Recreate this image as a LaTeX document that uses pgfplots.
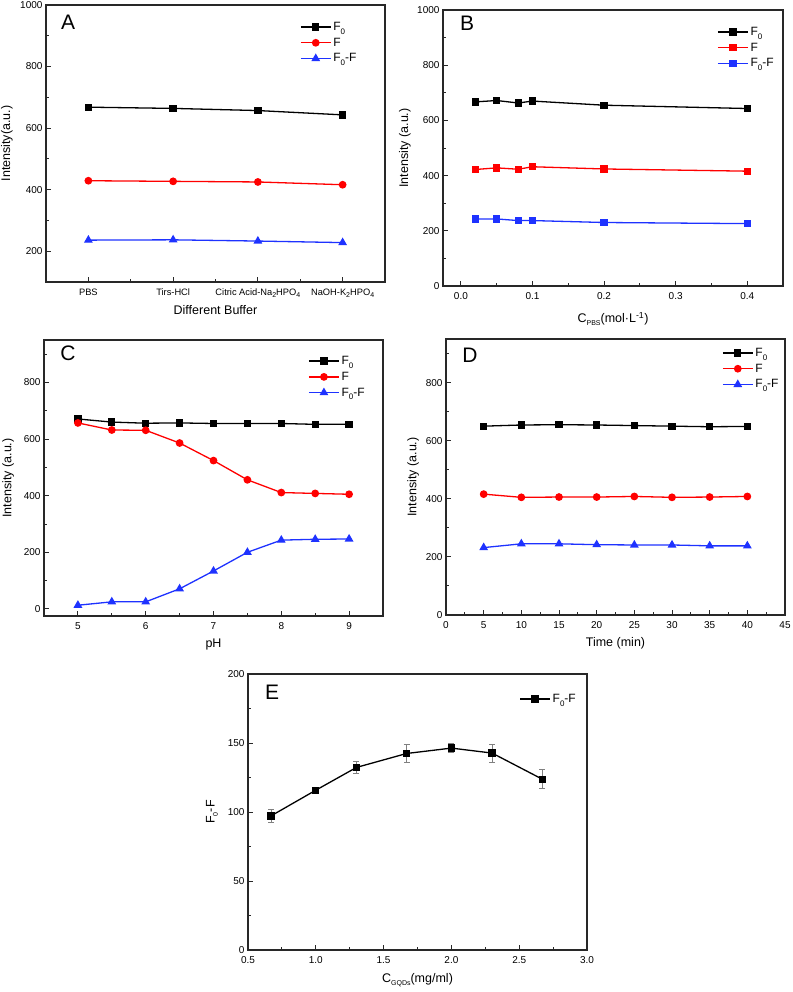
\documentclass[border=0pt]{standalone}
\usepackage{fontspec}
\setmainfont{Liberation Sans}
\usepackage{pgfplots}
\pgfplotsset{compat=1.18}
\definecolor{fred}{RGB}{255,0,0}
\definecolor{fblue}{RGB}{30,50,255}
\definecolor{frame}{RGB}{40,40,40}
\newcommand{\sub}[1]{\raisebox{-0.5ex}{\fontsize{7}{8}\selectfont #1}}
\newcommand{\lsub}[1]{\raisebox{-0.6ex}{\fontsize{8}{9}\selectfont #1}}

\pgfplotsset{
  panel/.style={
    scale only axis, anchor=south west,
    axis line style={frame, line width=1.1pt},
    tick align=inside, tick pos=left,
    major tick length=5pt, minor tick length=3pt,
    every tick/.style={frame, line width=0.9pt},
    tick label style={font=\fontsize{10}{12}\selectfont},
    xticklabel style={yshift=-3pt},
    label style={font=\fontsize{12.5}{14}\selectfont},
    /pgf/number format/assume math mode=true,
    /pgf/number format/1000 sep={},
    legend style={draw=none, fill=none, font=\fontsize{12}{14}\selectfont,
      anchor=north west, inner sep=0pt, row sep=2pt, cells={anchor=west}},
    legend image code/.code={\draw[mark repeat=2,mark phase=2,#1]
      plot coordinates {(0pt,0pt) (15pt,0pt) (30pt,0pt)};},
    xlabel style={anchor=center}, ylabel style={anchor=center},
  },
  sK/.style={black, line width=1.3pt, mark=square*, mark size=3pt},
  sR/.style={fred, line width=1.3pt, mark=*, mark size=3.2pt},
  sB/.style={fblue, line width=1.3pt, mark=triangle*, mark size=3.8pt},
  sRs/.style={fred, line width=1.3pt, mark=square*, mark size=3pt},
  sBs/.style={fblue, line width=1.3pt, mark=square*, mark size=3pt},
}
\newcommand{\panellabel}[3]{\node[font=\fontsize{21}{24}\selectfont] at (axis description cs:#1,#2) {#3};}

\begin{document}
\begin{tikzpicture}
\useasboundingbox (0,0) rectangle (792pt,992pt);

% ---- A: buffer type
\begin{axis}[panel, at={(46pt,710pt)}, width=339pt, height=277pt,
  xmin=0.5, xmax=4.5, ymin=100, ymax=1000,
  xtick={1,2,3,4}, minor xtick={1.5,2.5,3.5},
  xticklabels={PBS, Tirs-HCl, Citric Acid-Na\sub{2}HPO\sub{4}, NaOH-K\sub{2}HPO\sub{4}},
  xticklabel style={font=\fontsize{9.3}{11}\selectfont},
  ytick={200,400,...,1000}, minor ytick={300,500,700,900},
  xlabel={Different Buffer}, ylabel={Intensity(a.u.)},
  xlabel style={at={(axis description cs:0.5,-0.101)}},
  ylabel style={at={(axis description cs:-0.115,0.5)}},
  legend style={at={(axis description cs:0.749,0.946)}},
]
\addplot[sK] coordinates {(1,668) (2,664) (3,657) (4,643)};
\addplot[sR] coordinates {(1,429) (2,427) (3,425) (4,416)};
\addplot[sB] coordinates {(1,236) (2,237) (3,233) (4,228)};
\legend{F\lsub{0}, F, F\lsub{0}-F}
\panellabel{0.065}{0.939}{A}
\end{axis}

% ---- B: PBS concentration
\begin{axis}[panel, at={(443pt,706pt)}, width=340pt, height=276pt,
  xmin=-0.025, xmax=0.45, ymin=0, ymax=1000,
  xtick={0,0.1,0.2,0.3,0.4}, minor tick num=1,
  xticklabel style={/pgf/number format/.cd, fixed, fixed zerofill, precision=1},
  ytick={0,200,...,1000},
  xlabel={C\sub{PBS}(mol·L\textsuperscript{-1})}, ylabel={Intensity (a.u.)},
  xlabel style={at={(axis description cs:0.5,-0.12)}},
  ylabel style={at={(axis description cs:-0.112,0.5)}},
  legend style={at={(axis description cs:0.806,0.946)}},
]
\addplot[sK] coordinates {(0.02,667) (0.05,672) (0.08,663) (0.1,670) (0.2,655) (0.4,643)};
\addplot[sRs] coordinates {(0.02,422) (0.05,428) (0.08,423) (0.1,432) (0.2,424) (0.4,416)};
\addplot[sBs] coordinates {(0.02,243) (0.05,243) (0.08,237) (0.1,237) (0.2,230) (0.4,226)};
\legend{F\lsub{0}, F, F\lsub{0}-F}
\panellabel{0.071}{0.953}{B}
\end{axis}

% ---- C: pH
\begin{axis}[panel, at={(44pt,376pt)}, width=339pt, height=276pt,
  xmin=4.5, xmax=9.5, ymin=-25, ymax=950,
  xtick={5,6,7,8,9}, minor xtick={5.5,6.5,7.5,8.5},
  ytick={0,200,...,800}, minor ytick={100,300,...,900},
  xlabel={pH}, ylabel={Intensity (a.u.)},
  xlabel style={at={(axis description cs:0.5,-0.105)}},
  ylabel style={at={(axis description cs:-0.106,0.5)}},
  legend style={at={(axis description cs:0.779,0.949)}},
]
\addplot[sK] coordinates {(5,671) (5.5,660) (6,656) (6.5,657) (7,655) (7.5,655) (8,655) (8.5,652) (9,652)};
\addplot[sR] coordinates {(5,657) (5.5,632) (6,631) (6.5,586) (7,524) (7.5,456) (8,411) (8.5,408) (9,405)};
\addplot[sB] coordinates {(5,13) (5.5,25) (6,25) (6.5,71) (7,134) (7.5,200) (8,243) (8.5,246) (9,247)};
\legend{F\lsub{0}, F, F\lsub{0}-F}
\panellabel{0.071}{0.953}{C}
\end{axis}

% ---- D: time
\begin{axis}[panel, at={(446pt,377pt)}, width=339pt, height=276pt,
  xmin=0, xmax=45, ymin=0, ymax=950,
  xtick={0,5,...,45}, minor xtick={2.5,7.5,...,42.5},
  ytick={0,200,...,800}, minor ytick={100,300,...,900},
  xlabel={Time (min)}, ylabel={Intensity (a.u.)},
  xlabel style={at={(axis description cs:0.5,-0.101)}},
  ylabel style={at={(axis description cs:-0.097,0.5)}},
  legend style={at={(axis description cs:0.814,0.975)}},
]
\addplot[sK] coordinates {(5,650) (10,654) (15,655) (20,654) (25,652) (30,650) (35,648) (40,649)};
\addplot[sR] coordinates {(5,416) (10,405) (15,406) (20,406) (25,408) (30,405) (35,406) (40,408)};
\addplot[sB] coordinates {(5,232) (10,245) (15,245) (20,242) (25,241) (30,241) (35,238) (40,238)};
\legend{F\lsub{0}, F, F\lsub{0}-F}
\panellabel{0.071}{0.942}{D}
\end{axis}

% ---- E: GQDs concentration
\begin{axis}[panel, at={(248pt,42pt)}, width=339pt, height=276pt,
  xmin=0.5, xmax=3.0, ymin=0, ymax=200,
  xtick={0.5,1,...,3}, minor tick num=1,
  xticklabel style={/pgf/number format/.cd, fixed, fixed zerofill, precision=1},
  ytick={0,50,...,200},
  xlabel={C\sub{GQDs}(mg/ml)}, ylabel={F\sub{0}-F},
  xlabel style={at={(axis description cs:0.5,-0.109)}},
  ylabel style={at={(axis description cs:-0.106,0.5)}},
  legend style={at={(axis description cs:0.80,0.935)}},
]
\addplot[sK, error bars/.cd, y dir=both, y explicit,
  error bar style={gray, line width=0.8pt},
  error mark options={gray, rotate=90, mark size=3pt, line width=0.8pt}]
  coordinates {(0.67,97.2) +- (0,4.5) (1.0,115.8) +- (0,2.2) (1.3,132.3) +- (0,4.6)
    (1.67,142.4) +- (0,6.3) (2.0,146.3) +- (0,3.3) (2.3,142.7) +- (0,6.4) (2.67,123.8) +- (0,6.8)};
\legend{F\lsub{0}-F}
\panellabel{0.071}{0.935}{E}
\end{axis}
\end{tikzpicture}
\end{document}
